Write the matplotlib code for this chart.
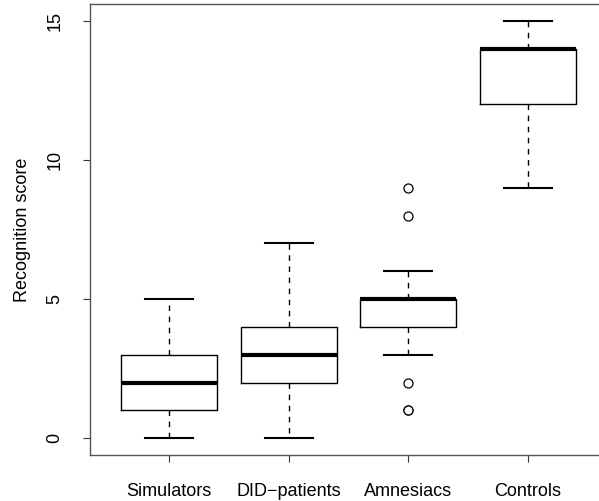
import matplotlib.pyplot as plt

plt.rcParams['font.family'] = ['Liberation Sans', 'DejaVu Sans']

groups = ['Simulators', 'DID\u2212patients', 'Amnesiacs', 'Controls']
whisker_low = [0, 0, 3, 9]
quart_low = [1, 2, 4, 12]
medians = [2, 3, 5, 14]
quart_high = [3, 4, 5, 14]
whisker_high = [5, 7, 6, 15]
outliers = [[], [], [9, 8, 2, 1, 1], []]

stats = []
for i in range(len(groups)):
    stats.append({
        'label': groups[i],
        'whislo': whisker_low[i],
        'q1': quart_low[i],
        'med': medians[i],
        'q3': quart_high[i],
        'whishi': whisker_high[i],
        'fliers': outliers[i],
    })

fig = plt.figure(figsize=(5.99, 5.01), dpi=100)
ax = fig.add_axes([0.1503, 0.0918, 0.863, 0.900])

ax.bxp(stats, positions=[1, 2, 3, 4], widths=0.8,
       boxprops=dict(color='black', linewidth=1.0),
       medianprops=dict(color='black', linewidth=3.0, solid_capstyle='butt'),
       whiskerprops=dict(color='black', linewidth=1.0, linestyle=(0, (4, 4))),
       capprops=dict(color='black', linewidth=1.5),
       flierprops=dict(marker='o', markerfacecolor='white', markeredgecolor='black',
                       markersize=6.5, markeredgewidth=0.9))

ax.set_xlim(0.34, 4.66)
ax.set_ylim(-0.6, 15.6)
ax.set_yticks([0, 5, 10, 15])
ax.set_yticklabels(['0', '5', '10', '15'], rotation=90, va='center')
ax.set_ylabel('Recognition score', fontsize=13, labelpad=11)
ax.tick_params(axis='both', labelsize=13, length=5, width=0.8, color='#333333')
ax.tick_params(axis='x', pad=15)
ax.tick_params(axis='y', pad=14)
for s in ax.spines.values():
    s.set_color('#555555')
    s.set_linewidth(1.0)

fig.savefig('out.png', dpi=100)
